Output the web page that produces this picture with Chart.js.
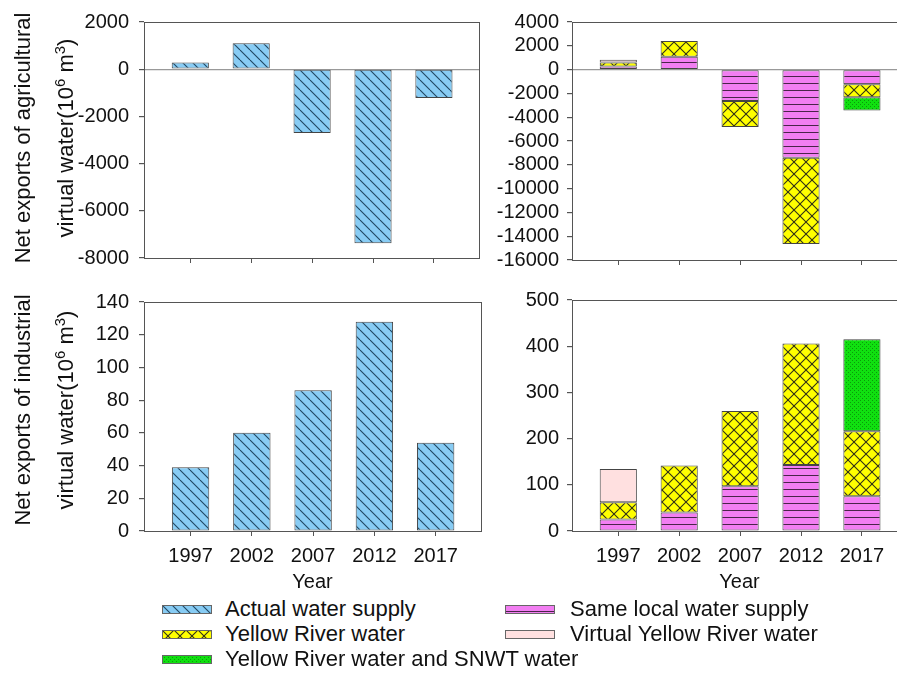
<!DOCTYPE html>
<html>
<head>
<meta charset="utf-8">
<script src="https://cdn.jsdelivr.net/npm/chart.js@4.4.1/dist/chart.umd.min.js"></script>
<style>
  html, body { margin: 0; padding: 0; background: #fff; }
  body { width: 897px; height: 680px; overflow: hidden; position: relative; font-family: "Liberation Sans", Arial, sans-serif; color: #111; }
  canvas { position: absolute; }
  .ytitle { position: absolute; width: 300px; height: 86px; font-size: 22px; line-height: 43px; text-align: center; transform: rotate(-90deg); white-space: nowrap; }
  .ytitle sup { font-size: 0.68em; line-height: 0; vertical-align: 0.55em; }
  .leg { position: absolute; height: 26px; line-height: 26px; font-size: 22px; white-space: nowrap; }
  .sw { position: absolute; }
</style>
</head>
<body>

<canvas id="agriLeft" width="430" height="280" style="left:60px; top:0px;"></canvas>
<canvas id="agriRight" width="480" height="280" style="left:440px; top:0px;"></canvas>
<canvas id="indLeft" width="430" height="314" style="left:60px; top:280px;"></canvas>
<canvas id="indRight" width="480" height="314" style="left:440px; top:280px;"></canvas>

<div class="ytitle" style="left:-106px; top:95px;">Net exports of agricultural<br>virtual water(10<sup>6</sup> m<sup>3</sup>)</div>
<div class="ytitle" style="left:-106px; top:367px;">Net exports of industrial<br>virtual water(10<sup>6</sup> m<sup>3</sup>)</div>

<canvas class="sw" id="swActual" width="50" height="9" style="left:162px; top:605px;"></canvas>
<div class="leg" style="left:225px; top:596px;">Actual water supply</div>
<canvas class="sw" id="swLocal" width="50" height="9" style="left:505px; top:605px;"></canvas>
<div class="leg" style="left:570px; top:596px;">Same local water supply</div>
<canvas class="sw" id="swYellow" width="50" height="9" style="left:162px; top:630px;"></canvas>
<div class="leg" style="left:225px; top:621px;">Yellow River water</div>
<canvas class="sw" id="swVirtual" width="50" height="9" style="left:505px; top:630px;"></canvas>
<div class="leg" style="left:570px; top:621px;">Virtual Yellow River water</div>
<canvas class="sw" id="swSnwt" width="50" height="9" style="left:162px; top:655px;"></canvas>
<div class="leg" style="left:225px; top:646px;">Yellow River water and SNWT water</div>

<script>
// 데이터
const years = [1997, 2002, 2007, 2012, 2017];

// agricultural virtual water (10^6 m3)
const agriActual  = [280, 1100, -2700, -7370, -1220];
const agriLocal   = [270, 1070, -2640, -7400, -1230];
const agriYellow  = [330, 1330, -2180, -7250, -1100];
const agriVirtual = [230, null, null, null, null];
const agriSnwt    = [null, null, null, null, -1110];

// industrial virtual water (10^6 m3)
const indActual  = [39, 60, 86, 128, 54];
const indLocal   = [25, 40, 97, 143, 75];
const indYellow  = [37, 102, 163, 263, 141];
const indVirtual = [72, null, null, null, null];
const indSnwt    = [null, null, null, null, 199];

// y tick ranges [min, max, step]
const agriLeftTicks  = [-8000, 2000, 2000];
const agriRightTicks = [-16000, 4000, 2000];
const indLeftTicks   = [0, 140, 20];
const indRightTicks  = [0, 500, 100];

// 패턴 만들기
function makePattern(kind) {
    const c = document.createElement('canvas');
    const g = c.getContext('2d');
    if (kind === 'actual') {
        c.width = 10; c.height = 10;
        g.fillStyle = '#88ccf4'; g.fillRect(0, 0, 10, 10);
        g.strokeStyle = '#1f4660'; g.lineWidth = 1.1;
        for (const k of [-10, 0, 10]) { g.beginPath(); g.moveTo(k, 0); g.lineTo(k + 10, 10); g.stroke(); }
    } else if (kind === 'local') {
        c.width = 8; c.height = 7;
        g.fillStyle = '#f27ef2'; g.fillRect(0, 0, 8, 7);
        g.fillStyle = '#4a244a'; g.fillRect(0, 6, 8, 1);
    } else if (kind === 'yellow') {
        c.width = 12; c.height = 12;
        g.fillStyle = '#ffff00'; g.fillRect(0, 0, 12, 12);
        g.strokeStyle = '#2e2e18'; g.lineWidth = 1.1;
        for (const k of [-12, 0, 12]) {
            g.beginPath(); g.moveTo(k, 0); g.lineTo(k + 12, 12); g.stroke();
            g.beginPath(); g.moveTo(k + 12, 0); g.lineTo(k, 12); g.stroke();
        }
    } else if (kind === 'snwt') {
        c.width = 4; c.height = 4;
        g.fillStyle = '#10e010'; g.fillRect(0, 0, 4, 4);
        g.fillStyle = '#0a9a0a'; g.fillRect(0, 0, 1, 1); g.fillRect(2, 2, 1, 1);
    } else {
        return '#ffe0e0';
    }
    return g.createPattern(c, 'repeat');
}

const fills = {
    actual: makePattern('actual'),
    local: makePattern('local'),
    yellow: makePattern('yellow'),
    virtual: makePattern('virtual'),
    snwt: makePattern('snwt'),
};

// 테두리 플러그인
const framePlugin = {
    id: 'frame',
    afterDatasetsDraw(chart) {
        const { ctx, chartArea: a } = chart;
        ctx.save();
        ctx.strokeStyle = '#555';
        ctx.lineWidth = 1;
        ctx.strokeRect(Math.round(a.left) + 0.5, Math.round(a.top) + 0.5, Math.round(a.right - a.left), Math.round(a.bottom - a.top));
        ctx.restore();
    },
};

Chart.defaults.font.family = '"Liberation Sans", Arial, sans-serif';
Chart.defaults.font.size = 20;
Chart.defaults.color = '#111';

function bar(label, data, fill) {
    return {
        label: label,
        data: data,
        backgroundColor: fill,
        borderColor: '#444',
        borderWidth: 1,
        borderSkipped: false,
        categoryPercentage: 1,
        barPercentage: 0.61,
    };
}

function makeChart(id, datasets, yTicks, o) {
    return new Chart(document.getElementById(id), {
        type: 'bar',
        data: { labels: years, datasets: datasets },
        options: {
            responsive: false,
            animation: false,
            layout: { padding: { top: o.padTop, right: o.padRight, bottom: 0, left: 0 } },
            plugins: { legend: { display: false }, tooltip: { enabled: false } },
            scales: {
                x: {
                    type: 'linear',
                    offset: false,
                    stacked: o.stacked,
                    min: 1993.2,
                    max: 2020.7,
                    afterBuildTicks: s => { s.ticks = years.map(v => ({ value: v })); },
                    afterFit: s => { s.height = o.xHeight; },
                    grid: { offset: false, drawOnChartArea: false, tickLength: 5, color: '#555' },
                    border: { color: '#555' },
                    ticks: { display: o.showX, padding: 8, autoSkip: false, maxRotation: 0, callback: v => String(v) },
                    title: { display: o.showX, text: 'Year', font: { size: 20 }, padding: 0 },
                },
                y: {
                    stacked: o.stacked,
                    min: yTicks[0],
                    max: yTicks[1],
                    afterFit: s => { s.width = o.yWidth; },
                    grid: {
                        drawOnChartArea: o.zeroLine,
                        color: ctx => (ctx.tick && ctx.tick.value === 0 ? '#999' : 'rgba(0,0,0,0)'),
                        tickColor: '#555',
                        tickLength: 5,
                        lineWidth: 1.2,
                    },
                    border: { color: '#555' },
                    ticks: { stepSize: yTicks[2], padding: o.yPad, autoSkip: false, callback: v => String(v) },
                },
            },
        },
        plugins: [framePlugin],
    });
}

makeChart('agriLeft', [bar('Actual water supply', agriActual, fills.actual)], agriLeftTicks,
    { stacked: false, padTop: 22, padRight: 11, xHeight: 17, yWidth: 84, showX: false, zeroLine: true, yPad: 10 });

makeChart('agriRight', [
    bar('Same local water supply', agriLocal, fills.local),
    bar('Yellow River water', agriYellow, fills.yellow),
    bar('Virtual Yellow River water', agriVirtual, fills.virtual),
    bar('Yellow River water and SNWT water', agriSnwt, fills.snwt),
], agriRightTicks,
    { stacked: true, padTop: 22, padRight: 13, xHeight: 17, yWidth: 132, showX: false, zeroLine: true, yPad: 8 });

makeChart('indLeft', [bar('Actual water supply', indActual, fills.actual)], indLeftTicks,
    { stacked: false, padTop: 10, padRight: 9, xHeight: 63, yWidth: 84, showX: true, zeroLine: false, yPad: 10 });

makeChart('indRight', [
    bar('Same local water supply', indLocal, fills.local),
    bar('Yellow River water', indYellow, fills.yellow),
    bar('Virtual Yellow River water', indVirtual, fills.virtual),
    bar('Yellow River water and SNWT water', indSnwt, fills.snwt),
], indRightTicks,
    { stacked: true, padTop: 10, padRight: 13, xHeight: 63, yWidth: 132, showX: true, zeroLine: false, yPad: 8 });

// 범례 견본
function drawSwatch(id, fill) {
    const c = document.getElementById(id);
    const g = c.getContext('2d');
    g.fillStyle = fill;
    g.fillRect(0, 0, c.width, c.height);
    g.strokeStyle = '#666';
    g.lineWidth = 1;
    g.strokeRect(0.5, 0.5, c.width - 1, c.height - 1);
}
drawSwatch('swActual', fills.actual);
drawSwatch('swLocal', fills.local);
drawSwatch('swYellow', fills.yellow);
drawSwatch('swVirtual', fills.virtual);
drawSwatch('swSnwt', fills.snwt);
</script>
</body>
</html>
